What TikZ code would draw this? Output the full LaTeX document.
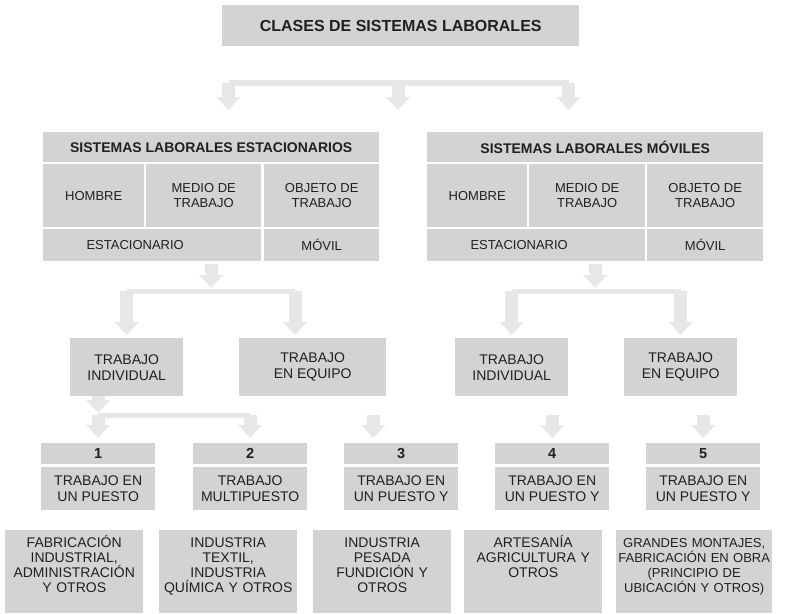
\documentclass[tikz,border=0pt]{standalone}
\usepackage{fontspec}
\setmainfont{Liberation Sans}
\usetikzlibrary{arrows.meta}
\definecolor{boxc}{HTML}{D1D3D4}
\definecolor{arrowc}{HTML}{E6E7E8}
\definecolor{ink}{HTML}{231F20}
\begin{document}
\begin{tikzpicture}[x=1pt,y=-1pt,
  box/.style={fill=boxc,text=ink,anchor=north west,inner sep=0pt,align=center,font=\fontsize{14}{16}\selectfont},
  cell/.style={box,minimum height=63pt,font=\fontsize{13}{15}\selectfont},
  row/.style={box,minimum height=32pt,font=\fontsize{13}{15}\selectfont},
  head/.style={box,minimum width=336pt,minimum height=30pt,font=\bfseries\fontsize{14}{16}\selectfont},
  mid/.style={box,minimum height=58pt},
  nbox/.style={box,minimum width=114pt,minimum height=21pt,font=\bfseries\fontsize{14.5}{16}\selectfont},
  wbox/.style={box,minimum width=114pt,minimum height=43pt},
  exbox/.style={box,text width=138pt,text height=17pt,text depth=66pt,font=\fontsize{14}{15}\selectfont},
  stem/.style={draw=arrowc,line width=13pt,-{Triangle[width=24pt,length=13pt,line width=0pt]}},
  bar/.style={draw=arrowc,line width=5pt,yshift=-2.5pt}]
\useasboundingbox (0,0) rectangle (794,613);
\node[box,minimum width=357pt,minimum height=41pt,font=\bfseries\fontsize{16}{18}\selectfont] (title) at (222,5) {CLASES DE SISTEMAS LABORALES};
% first fork
\coordinate (fk0) at (0,83);
\coordinate (t0a) at (228.5,110);
\coordinate (t0b) at (398,110);
\coordinate (t0c) at (568.5,110);
\draw[bar,line width=6pt,yshift=-0.5pt] (fk0 -| t0a) -- (fk0 -| t0c);
\draw[stem] (fk0 -| t0a) -- (t0a);
\draw[stem] (fk0 -| t0b) -- (t0b);
\draw[stem] (fk0 -| t0c) -- (t0c);
% stationary
\node[head] (sle) at (43,132) {SISTEMAS LABORALES ESTACIONARIOS};
\node[cell,minimum width=101pt] (sle1) at (43,164) {HOMBRE};
\node[cell,minimum width=115pt] (sle2) at (146,164) {MEDIO DE\\TRABAJO};
\node[cell,minimum width=115pt] (sle3) at (264,164) {OBJETO DE\\TRABAJO};
\node[row,minimum width=218pt] (sle4) at (43,229) {ESTACIONARIO\kern34pt};
\node[row,minimum width=115pt] (sle5) at (264,229) {MÓVIL};
% mobile
\node[head] (slm) at (427,132) {SISTEMAS LABORALES MÓVILES};
\node[cell,minimum width=100pt] (slm1) at (427,164) {HOMBRE};
\node[cell,minimum width=116pt] (slm2) at (529,164) {MEDIO DE\\TRABAJO};
\node[cell,minimum width=116pt] (slm3) at (647,164) {OBJETO DE\\TRABAJO};
\node[row,minimum width=218pt] (slm4) at (427,229) {ESTACIONARIO\kern34pt};
\node[row,minimum width=116pt] (slm5) at (647,229) {MÓVIL};
% kinds of work
\node[mid,minimum width=113pt] (til) at (70,338) {TRABAJO\\INDIVIDUAL};
\node[mid,minimum width=147pt] (tel) at (239,338) {TRABAJO\\EN EQUIPO};
\node[mid,minimum width=113pt] (tir) at (455,338) {TRABAJO\\INDIVIDUAL};
\node[mid,minimum width=113pt] (ter) at (624,338) {TRABAJO\\EN EQUIPO};
\coordinate (fk1) at (0,291);
\coordinate (t1b) at (295,335);
\draw[stem] ([yshift=-3pt]sle4.south -| sle.south) -- ([yshift=3pt]fk1 -| sle.south);
\draw[bar] (fk1 -| til.north) -- (fk1 -| t1b);
\draw[stem] (fk1 -| til.north) -- ([yshift=3pt]til.north);
\draw[stem] (fk1 -| t1b) -- (t1b);
\draw[stem] ([yshift=-3pt]slm4.south -| slm.south) -- ([yshift=3pt]fk1 -| slm.south);
\draw[bar] (fk1 -| tir.north) -- (fk1 -| ter.north);
\draw[stem] (fk1 -| tir.north) -- ([yshift=3pt]tir.north);
\draw[stem] (fk1 -| ter.north) -- ([yshift=3pt]ter.north);
% numbered classes
\node[nbox] (n1) at (41,443) {1};
\node[nbox] (n2) at (193,443) {2};
\node[nbox] (n3) at (344,443) {3};
\node[nbox] (n4) at (495,443) {4};
\node[nbox] (n5) at (646,443) {5};
\node[wbox] (w1) at (41,467) {TRABAJO EN\\UN PUESTO};
\node[wbox] (w2) at (193,467) {TRABAJO\\MULTIPUESTO};
\node[wbox] (w3) at (344,467) {TRABAJO EN\\UN PUESTO Y};
\node[wbox] (w4) at (495,467) {TRABAJO EN\\UN PUESTO Y};
\node[wbox] (w5) at (646,467) {TRABAJO EN\\UN PUESTO Y};
\coordinate (fk2) at (0,415);
\coordinate (t3) at (373.5,438);
\draw[stem] (til.south -| n1.north) -- ([yshift=2pt]fk2 -| n1.north);
\draw[bar] (fk2 -| n1.north) -- (fk2 -| n2.north);
\draw[stem] (fk2 -| n1.north) -- ([yshift=5pt]n1.north);
\draw[stem] (fk2 -| n2.north) -- ([yshift=5pt]n2.north);
\draw[stem] (fk2 -| t3) -- (t3);
\draw[stem] (fk2 -| n4.north) -- ([yshift=5pt]n4.north);
\draw[stem] (fk2 -| n5.north) -- ([yshift=5pt]n5.north);
% examples
\node[exbox] (e1) at (5,530) {FABRICACIÓN\\INDUSTRIAL,\\ADMINISTRACIÓN\\Y OTROS};
\node[exbox] (e2) at (159,530) {INDUSTRIA\\TEXTIL,\\INDUSTRIA\\QUÍMICA Y OTROS};
\node[exbox] (e3) at (313,530) {INDUSTRIA\\PESADA\\FUNDICIÓN Y\\OTROS};
\node[exbox] (e4) at (464,530) {ARTESANÍA\\AGRICULTURA Y\\OTROS};
\node[exbox,text width=156pt,font=\fontsize{13}{15}\selectfont] (e5) at (616,530) {GRANDES MONTAJES,\\FABRICACIÓN EN OBRA\\(PRINCIPIO DE\\UBICACIÓN Y OTROS)};
\end{tikzpicture}
\end{document}
